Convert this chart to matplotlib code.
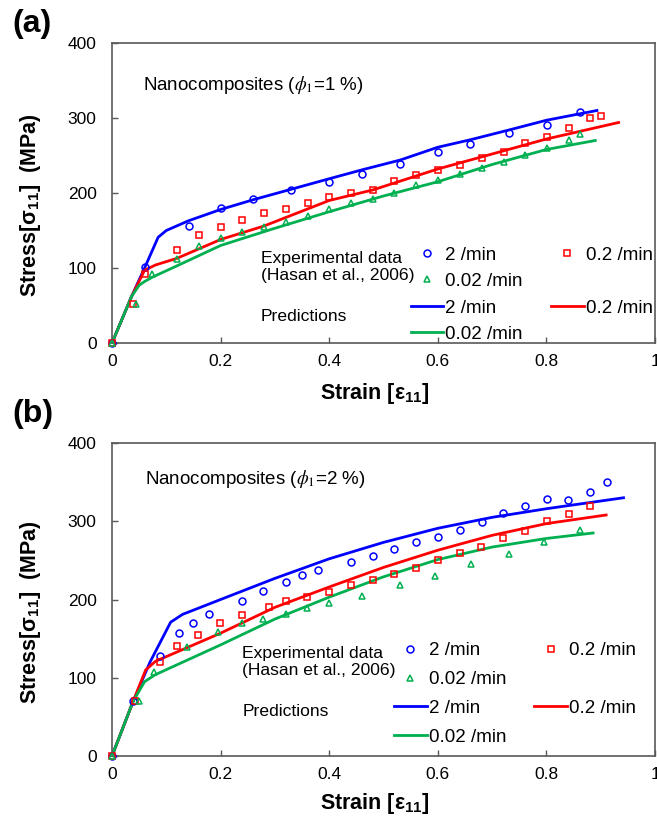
import numpy as np
import matplotlib
matplotlib.use("Agg")
from matplotlib import pyplot as plt
from matplotlib.lines import Line2D

plt.rcParams["font.family"] = ["Liberation Sans", "DejaVu Sans"]
plt.rcParams["mathtext.fontset"] = "custom"
plt.rcParams["mathtext.rm"] = "Liberation Sans"
plt.rcParams["mathtext.bf"] = "Liberation Sans:bold"
plt.rcParams["mathtext.it"] = "Liberation Sans:italic"

# ---- panel (a): phi1 = 1 % ----
a_exp_2_x = [0, 0.060, 0.141, 0.200, 0.260, 0.330, 0.400, 0.461, 0.531, 0.601, 0.660, 0.731, 0.801, 0.861]
a_exp_2_y = [0, 101, 156, 180, 192, 204, 214, 225, 238, 255, 265, 280, 290, 308]
a_exp_02_x = [0, 0.039, 0.060, 0.120, 0.160, 0.200, 0.240, 0.280, 0.320, 0.361, 0.400, 0.440, 0.480,
              0.520, 0.560, 0.601, 0.641, 0.681, 0.721, 0.760, 0.801, 0.841, 0.881, 0.901]
a_exp_02_y = [0, 52, 92, 124, 144, 155, 164, 173, 179, 187, 195, 200, 204,
              216, 224, 230, 237, 246, 255, 267, 275, 287, 300, 303]
a_exp_002_x = [0, 0.044, 0.074, 0.120, 0.160, 0.200, 0.240, 0.280, 0.320, 0.361, 0.400, 0.440, 0.480,
               0.520, 0.560, 0.601, 0.641, 0.681, 0.721, 0.760, 0.801, 0.841, 0.861]
a_exp_002_y = [0, 52, 92, 112, 129, 140, 148, 154, 161, 169, 178, 186, 192,
               200, 210, 217, 225, 233, 241, 251, 260, 270, 278]

a_pred_2_x = [0, 0.036, 0.060, 0.085, 0.100, 0.141, 0.200, 0.260, 0.330, 0.400, 0.461, 0.531, 0.600, 0.660, 0.731, 0.800, 0.893]
a_pred_2_y = [0, 62, 100, 141, 150, 163, 178, 191, 205, 219, 231, 244, 261, 271, 284, 297, 310]
a_pred_02_x = [0, 0.036, 0.060, 0.080, 0.120, 0.200, 0.280, 0.400, 0.480, 0.600, 0.720, 0.800, 0.933]
a_pred_02_y = [0, 62, 97, 104, 113, 138, 156, 190, 204, 232, 256, 272, 294]
a_pred_002_x = [0, 0.036, 0.050, 0.060, 0.075, 0.120, 0.200, 0.300, 0.400, 0.500, 0.600, 0.700, 0.800, 0.890]
a_pred_002_y = [0, 62, 77, 82, 88, 103, 130, 153, 175, 196, 215, 238, 258, 270]

# ---- panel (b): phi1 = 2 % ----
b_exp_2_x = [0, 0.039, 0.088, 0.124, 0.149, 0.179, 0.239, 0.279, 0.320, 0.350, 0.380, 0.440, 0.480,
             0.520, 0.560, 0.600, 0.641, 0.681, 0.720, 0.761, 0.801, 0.840, 0.881, 0.911]
b_exp_2_y = [0, 70, 128, 157, 170, 182, 198, 211, 222, 231, 238, 248, 256,
             265, 274, 280, 289, 299, 311, 320, 328, 327, 337, 350]
b_exp_02_x = [0, 0.042, 0.088, 0.119, 0.159, 0.199, 0.239, 0.289, 0.320, 0.359, 0.400, 0.440,
              0.480, 0.520, 0.560, 0.600, 0.641, 0.680, 0.720, 0.761, 0.801, 0.841, 0.881]
b_exp_02_y = [0, 70, 120, 141, 154, 170, 180, 190, 198, 203, 210, 219,
              225, 233, 240, 250, 260, 267, 279, 287, 300, 309, 320]
b_exp_002_x = [0, 0.049, 0.078, 0.139, 0.195, 0.239, 0.279, 0.320, 0.359, 0.400, 0.460, 0.530,
               0.595, 0.661, 0.731, 0.796, 0.861]
b_exp_002_y = [0, 70, 107, 139, 159, 170, 175, 182, 189, 196, 205, 219,
               230, 245, 258, 274, 289]

b_pred_2_x = [0, 0.039, 0.070, 0.108, 0.130, 0.200, 0.300, 0.400, 0.500, 0.600, 0.700, 0.800, 0.942]
b_pred_2_y = [0, 70, 120, 171, 181, 200, 227, 252, 273, 291, 305, 316, 330]
b_pred_02_x = [0, 0.039, 0.062, 0.080, 0.200, 0.300, 0.400, 0.500, 0.600, 0.700, 0.800, 0.910]
b_pred_02_y = [0, 70, 110, 121, 157, 190, 216, 241, 263, 282, 297, 308]
b_pred_002_x = [0, 0.039, 0.060, 0.080, 0.200, 0.300, 0.400, 0.500, 0.600, 0.700, 0.800, 0.886]
b_pred_002_y = [0, 70, 95, 104, 142, 175, 203, 229, 251, 267, 278, 285]

rate_labels = ["2 /min", "0.2 /min", "0.02 /min"]
colors = ["#0000ff", "#ff0000", "#00b050"]
markers = ["o", "s", "^"]

panels = [
    dict(tag="(a)", title=r"Nanocomposites ($\phi_1$=1 %)",
         exp=[(a_exp_2_x, a_exp_2_y), (a_exp_02_x, a_exp_02_y), (a_exp_002_x, a_exp_002_y)],
         pred=[(a_pred_2_x, a_pred_2_y), (a_pred_02_x, a_pred_02_y), (a_pred_002_x, a_pred_002_y)],
         rect=[112 / 657, 1 - 343 / 822, 543 / 657, 300 / 822],
         tag_y=1 - 24 / 822, title_pos=(0.057, 0.86),
         exp_txt=(0.274, 0.253), pred_txt=(0.274, 0.09), leg=(0.55, 0.161),
         xlab_y=-0.125, spacing=0.50),
    dict(tag="(b)", title=r"Nanocomposites ($\phi_1$=2 %)",
         exp=[(b_exp_2_x, b_exp_2_y), (b_exp_02_x, b_exp_02_y), (b_exp_002_x, b_exp_002_y)],
         pred=[(b_pred_2_x, b_pred_2_y), (b_pred_02_x, b_pred_02_y), (b_pred_002_x, b_pred_002_y)],
         rect=[112 / 657, 1 - 756 / 822, 543 / 657, 313 / 822],
         tag_y=1 - 414 / 822, title_pos=(0.06, 0.884),
         exp_txt=(0.240, 0.30), pred_txt=(0.240, 0.1415), leg=(0.519, 0.198),
         xlab_y=-0.112, spacing=0.62),
]

fig = plt.figure(figsize=(6.57, 8.22), dpi=100)

for p in panels:
    ax = fig.add_axes(p["rect"])
    for (x, y), c, m in zip(p["exp"], colors, markers):
        ax.plot(x, y, linestyle="none", marker=m, markersize=5, markerfacecolor="none",
                markeredgecolor=c, markeredgewidth=1.1, clip_on=False, zorder=3)
    for (x, y), c in zip(p["pred"], colors):
        ax.plot(x, y, color=c, linewidth=2, zorder=2)

    ax.set_xlim(0, 1)
    ax.set_ylim(0, 400)
    ax.set_xticks(np.arange(0, 1.01, 0.2))
    ax.set_xticklabels(["0", "0.2", "0.4", "0.6", "0.8", "1"])
    ax.set_yticks(np.arange(0, 401, 100))
    ax.tick_params(direction="in", length=4, width=1, color="#595959", labelsize=12.5,
                   top=False, right=False)
    ax.tick_params(axis="x", pad=8)
    ax.tick_params(axis="y", pad=11)
    for s in ax.spines.values():
        s.set_color("#595959")
        s.set_linewidth(1.2)

    ax.set_xlabel(r"Strain [ε$_{\mathbf{11}}$]", fontsize=15.5, fontweight="bold")
    ax.xaxis.set_label_coords(0.484, p["xlab_y"])
    ax.set_ylabel(r"Stress[σ$_{\mathbf{11}}$]  (MPa)", fontsize=15.5, fontweight="bold")
    ax.yaxis.set_label_coords(-0.127, 0.46)

    ax.text(p["title_pos"][0], p["title_pos"][1], p["title"], transform=ax.transAxes,
            fontsize=13.5, va="center", ha="left", math_fontfamily="stix")
    ax.text(p["exp_txt"][0], p["exp_txt"][1], "Experimental data\n(Hasan et al., 2006)",
            transform=ax.transAxes, fontsize=12.6, va="center", ha="left", linespacing=1.2)
    ax.text(p["pred_txt"][0], p["pred_txt"][1], "Predictions",
            transform=ax.transAxes, fontsize=12.6, va="center", ha="left")

    blank = Line2D([], [], linestyle="none", marker=None)
    h_exp = [Line2D([], [], linestyle="none", marker=m, markersize=5, markerfacecolor="none",
                    markeredgecolor=c, markeredgewidth=1.1) for c, m in zip(colors, markers)]
    h_pred = [Line2D([], [], color=c, linewidth=2) for c in colors]
    handles = [h_exp[0], h_exp[2], h_pred[0], h_pred[2], h_exp[1], blank, h_pred[1], blank]
    labels = [rate_labels[0], rate_labels[2], rate_labels[0], rate_labels[2],
              rate_labels[1], "", rate_labels[1], ""]
    ax.legend(handles, labels, ncol=2, loc="center left", bbox_to_anchor=p["leg"],
              frameon=False, fontsize=13.5, handlelength=1.75, handletextpad=0.1,
              columnspacing=1.5, labelspacing=p["spacing"], borderpad=0, borderaxespad=0)

    fig.text(12 / 657, p["tag_y"], p["tag"], fontsize=23, fontweight="bold",
             ha="left", va="center")

fig.savefig("out.png", dpi=100)
